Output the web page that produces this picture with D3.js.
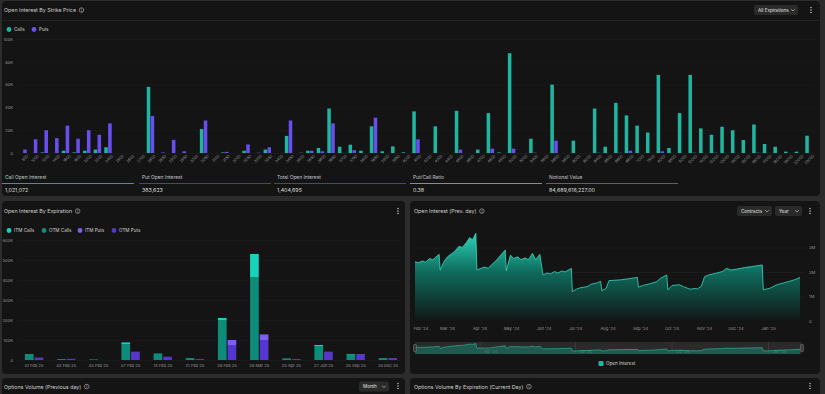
<!DOCTYPE html>
<html>
<head>
<meta charset="utf-8">
<script src="https://cdn.jsdelivr.net/npm/d3@7"></script>
<style>
  body { margin: 0; background: #2c2c2c; font-family: Inter, "Noto Sans", sans-serif; }
  svg { display: block; }
</style>
</head>
<body>
<div id="chart"></div>
<script>
// ---- open interest by strike ----
var strikes = [800,1000,1200,1400,1600,1800,2000,2200,2400,2500,2600,2700,2800,
  2850,2900,2950,3000,3050,3100,3150,3200,3250,3300,3350,3400,3450,3500,3550,3600,3650,
  3700,3750,3800,3850,3900,3950,4000,4100,4200,4300,4400,4500,4600,4700,4800,4900,5000,
  5200,5400,5500,5600,5800,6000,6200,6400,6500,6600,6800,7000,7500,8000,8500,9000,10000,
  11000,12000,13000,14000,15000,16000,17000,18000,19000,20000,25000];
var callOI = [0,0,500,0,2000,500,2000,3000,5000,0,0,0,58000,
  0,0,0,0,21000,0,500,0,2000,0,3000,0,15000,0,2000,4400,39000,
  5500,7300,2000,23400,1500,5800,600,36500,0,23400,0,37000,0,3000,35000,500,87500,
  0,12500,0,60000,0,10800,0,39000,5500,44000,33000,24000,18000,68500,4400,35000,68500,
  21600,16000,23000,20000,11400,25000,7900,5500,1200,1200,15200];
var putOI = [3000,12000,20000,13000,24000,12500,20000,16000,26000,0,0,0,32500,
  500,11500,1500,0,28500,0,1000,0,7500,300,5000,0,28500,300,2000,1500,26000,
  0,2500,0,31000,0,0,0,12000,0,0,0,3000,0,0,3800,0,3800,
  0,300,0,10800,0,0,0,300,0,300,2000,0,0,1500,0,0,300,
  0,300,0,0,0,300,0,0,0,0,0];
var strikeTicks = [0,20000,40000,60000,80000,100000];

var statLabels = ["Call Open Interest","Put Open Interest","Total Open Interest","Put/Call Ratio","Notional  Value"];
var statValues = ["1,021,072","383,623","1,404,695","0.38","84,689,616,227.00"];
var statColors = ["#1fb5a0","#4b3fc4","#4c3fd0","#9a9a9a","#6a6a6a"];

// ---- open interest by expiration ----
var expiries = ["01 Feb 25","02 Feb 25","03 Feb 25","07 Feb 25","14 Feb 25","21 Feb 25",
  "28 Feb 25","28 Mar 25","25 Apr 25","27 Jun 25","26 Sep 25","26 Dec 25"];
var itmCalls = [3000,500,300,8000,3000,1000,10000,117000,800,5000,3000,1000];
var otmCalls = [25000,4500,2700,80000,29000,9000,200000,413000,7200,70000,27000,9000];
var itmPuts  = [1000,500,0,3000,1000,500,25000,28000,500,3000,2000,1000];
var otmPuts  = [11000,5500,300,38000,15000,4500,75000,100000,4500,38000,28000,9000];
var expTicks = [0,100000,200000,300000,400000,500000,600000];

// ---- open interest history ----
var oiDates = ["2024-01-30","2024-02-02","2024-02-06","2024-02-09","2024-02-13","2024-02-16","2024-02-20","2024-02-22",
  "2024-02-23","2024-02-27","2024-03-01","2024-03-05","2024-03-08","2024-03-12","2024-03-15","2024-03-19","2024-03-22",
  "2024-03-25","2024-03-28","2024-03-29","2024-04-02","2024-04-05","2024-04-09","2024-04-12","2024-04-16","2024-04-19",
  "2024-04-25","2024-04-26","2024-04-30","2024-05-03","2024-05-07","2024-05-10","2024-05-14","2024-05-17","2024-05-21",
  "2024-05-24","2024-05-28","2024-05-31","2024-06-04","2024-06-07","2024-06-11","2024-06-14","2024-06-18","2024-06-21",
  "2024-06-27","2024-06-28","2024-07-02","2024-07-05","2024-07-09","2024-07-12","2024-07-16","2024-07-22","2024-07-25",
  "2024-07-26","2024-07-30","2024-08-02","2024-08-06","2024-08-13","2024-08-20","2024-08-29","2024-08-30","2024-09-03",
  "2024-09-10","2024-09-16","2024-09-20","2024-09-26","2024-09-27","2024-10-01","2024-10-08","2024-10-12","2024-10-18",
  "2024-10-24","2024-10-25","2024-10-29","2024-11-01","2024-11-05","2024-11-12","2024-11-18","2024-11-22","2024-11-26",
  "2024-12-02","2024-12-09","2024-12-16","2024-12-26","2024-12-27","2025-01-03","2025-01-09","2025-01-15","2025-01-21",
  "2025-01-27","2025-01-31"];
var oiValues = [2420000,2380000,2450000,2400000,2550000,2500000,2650000,2720000,
  2080000,2450000,2620000,2750000,2850000,3050000,3000000,3200000,3400000,
  3320000,3580000,2080000,2150000,2200000,2150000,2300000,2450000,2600000,
  2900000,2050000,2690000,2550000,2620000,2500000,2580000,2500000,2760000,
  2500000,2720000,1880000,1960000,1920000,2020000,1960000,2040000,2000000,
  2150000,1200000,1300000,1350000,1380000,1400000,1500000,1560000,1620000,
  1240000,1320000,1650000,1660000,1680000,1720000,1780000,1380000,1450000,
  1520000,1600000,1740000,1880000,1270000,1450000,1480000,1400000,1300000,
  1330000,1300000,1420000,1810000,1880000,1950000,2020000,2150000,2080000,
  2120000,2180000,2220000,2290000,1270000,1350000,1480000,1550000,1620000,
  1700000,1780000];
var oiTicks = [0,1000000,2000000,3000000];

var teal = "#1fb5a0", purple = "#6a4ff0";
var textCol = "#d0d0d0", dimText = "#959595";

var svg = d3.select("#chart").append("svg")
    .attr("width", 825)
    .attr("height", 394);

var defs = svg.append("defs");

function panel(x, y, w, h) {
  svg.append("rect")
     .attr("x", x).attr("y", y)
     .attr("width", w).attr("height", h)
     .attr("rx", 4)
     .attr("fill", "#141414");
}

function title(x, y, txt) {
  var t = svg.append("text")
     .attr("x", x).attr("y", y)
     .attr("font-size", 5.3)
     .attr("fill", textCol)
     .text(txt);
  var w = t.node().getComputedTextLength();
  // info icon
  svg.append("circle").attr("cx", x + w + 5.5).attr("cy", y - 1.9).attr("r", 2.3)
     .attr("fill", "none").attr("stroke", "#bbb").attr("stroke-width", 0.6);
  svg.append("text").attr("x", x + w + 5.5).attr("y", y - 0.4)
     .attr("text-anchor", "middle").attr("font-size", 3.8).attr("fill", "#ccc").text("i");
}

function kebab(x, y) {
  [-2.5, 0, 2.5].forEach(function (d) {
    svg.append("circle").attr("cx", x).attr("cy", y + d).attr("r", 0.7).attr("fill", "#ddd");
  });
}

function button(x, y, w, txt) {
  svg.append("rect").attr("x", x).attr("y", y).attr("width", w).attr("height", 10)
     .attr("rx", 2).attr("fill", "#2a2a2a");
  svg.append("text").attr("x", x + 4).attr("y", y + 6.6)
     .attr("font-size", 4.6).attr("fill", "#e0e0e0").text(txt);
  var cx = x + w - 5;
  svg.append("path")
     .attr("d", "M" + (cx - 1.8) + "," + (y + 4.2) + "L" + cx + "," + (y + 6) + "L" + (cx + 1.8) + "," + (y + 4.2))
     .attr("fill", "none").attr("stroke", "#ddd").attr("stroke-width", 0.6);
}

function legendDot(x, y, col, txt, square) {
  if (square) {
    svg.append("rect").attr("x", x - 2.5).attr("y", y - 2.5).attr("width", 5).attr("height", 5)
       .attr("rx", 1).attr("fill", col);
  } else {
    svg.append("circle").attr("cx", x).attr("cy", y).attr("r", 2.4).attr("fill", col);
  }
  svg.append("text").attr("x", x + 5).attr("y", y + 1.7)
     .attr("font-size", 4.6).attr("fill", textCol).text(txt);
}

// panels
panel(2, 1, 818, 195);
panel(2, 201, 403, 173);
panel(410, 201, 410, 173);
panel(2, 378, 403, 30);
panel(410, 378, 410, 30);

// ================= Open Interest By Strike Price =================
title(4, 12, "Open Interest By Strike Price");
button(754, 5, 44, "All Expirations");
kebab(811, 10);
svg.append("line").attr("x1", 2).attr("x2", 820).attr("y1", 20.5).attr("y2", 20.5)
   .attr("stroke", "#262626").attr("stroke-width", 0.8);

legendDot(9, 29.5, teal, "Calls");
legendDot(34, 29.5, purple, "Puts");

var xS = d3.scaleBand().domain(strikes).range([17.7, 814.3]).paddingInner(0.3).paddingOuter(0.15);
var xSi = d3.scaleBand().domain(["calls", "puts"]).range([0, xS.bandwidth()]).paddingInner(0.1);
var yS = d3.scaleLinear().domain([0, 100000]).range([153, 39]);
var fmtK = function (v) { return v === 0 ? "0" : (v / 1000) + "K"; };

var gS = svg.append("g");
gS.selectAll(".grid").data(strikeTicks).enter().append("line")
  .attr("x1", 17).attr("x2", 815)
  .attr("y1", function (d) { return yS(d) + 0.5; })
  .attr("y2", function (d) { return yS(d) + 0.5; })
  .attr("stroke", "#1f1f1f").attr("stroke-width", 0.6);

gS.append("g")
  .attr("transform", "translate(13,0)")
  .call(d3.axisLeft(yS).tickValues(strikeTicks).tickFormat(fmtK).tickSize(0).tickPadding(0))
  .call(function (g) { g.select(".domain").remove(); })
  .selectAll("text").attr("font-size", 4.1).attr("fill", dimText).attr("font-family", "Inter");

var strikeRows = strikes.map(function (s, i) { return { strike: s, calls: callOI[i], puts: putOI[i] }; });
var grp = gS.selectAll(".sg").data(strikeRows).enter().append("g")
  .attr("transform", function (d) { return "translate(" + xS(d.strike) + ",0)"; });
grp.append("rect")
  .attr("x", xSi("calls")).attr("width", xSi.bandwidth())
  .attr("y", function (d) { return yS(d.calls); })
  .attr("height", function (d) { return yS(0) - yS(d.calls); })
  .attr("fill", teal);
grp.append("rect")
  .attr("x", xSi("puts")).attr("width", xSi.bandwidth())
  .attr("y", function (d) { return yS(d.puts); })
  .attr("height", function (d) { return yS(0) - yS(d.puts); })
  .attr("fill", purple);

gS.append("g")
  .attr("transform", "translate(0,154)")
  .call(d3.axisBottom(xS).tickSize(0).tickPadding(2))
  .call(function (g) { g.select(".domain").remove(); })
  .selectAll("text")
    .attr("font-size", 3.8).attr("fill", dimText).attr("font-family", "Inter")
    .style("text-anchor", "end")
    .attr("dx", "0.6em").attr("dy", "0.9em")
    .attr("transform", "rotate(-45)");

// stats row
var statX = [5, 142, 277, 413, 549];
statLabels.forEach(function (lab, i) {
  svg.append("text").attr("x", statX[i]).attr("y", 179).attr("font-size", 4.9)
     .attr("fill", "#c4c4c4").text(lab);
  svg.append("line").attr("x1", statX[i] - 3).attr("x2", statX[i] + 129)
     .attr("y1", 183.5).attr("y2", 183.5).attr("stroke", statColors[i]).attr("stroke-width", 0.9);
  svg.append("text").attr("x", statX[i]).attr("y", 191.5).attr("font-size", 5.3)
     .attr("fill", "#dcdcdc").text(statValues[i]);
});

// ================= Open Interest By Expiration =================
title(4, 213, "Open Interest By Expiration");
kebab(398, 211);
legendDot(9, 230.5, "#16d3bb", "ITM Calls");
legendDot(44, 230.5, "#0e8c7a", "OTM Calls");
legendDot(80, 230.5, "#7c5ff0", "ITM Puts");
legendDot(114, 230.5, "#5636d0", "OTM Puts");

var xE = d3.scaleBand().domain(expiries).range([18, 404]).paddingInner(0.43).paddingOuter(0.215);
var xEi = d3.scaleBand().domain(["c", "p"]).range([0, xE.bandwidth()]).paddingInner(0.1);
var yE = d3.scaleLinear().domain([0, 600000]).range([360, 240]);

var gE = svg.append("g");
gE.selectAll(".grid").data(expTicks).enter().append("line")
  .attr("x1", 17).attr("x2", 400)
  .attr("y1", function (d) { return yE(d) + 0.5; })
  .attr("y2", function (d) { return yE(d) + 0.5; })
  .attr("stroke", "#1c1c1c").attr("stroke-width", 0.6);
gE.append("g")
  .attr("transform", "translate(13,0)")
  .call(d3.axisLeft(yE).tickValues(expTicks).tickFormat(fmtK).tickSize(0).tickPadding(0))
  .call(function (g) { g.select(".domain").remove(); })
  .selectAll("text").attr("font-size", 4.1).attr("fill", dimText).attr("font-family", "Inter");

var expRows = expiries.map(function (e, i) {
  return { exp: e, otmC: otmCalls[i], itmC: itmCalls[i], otmP: otmPuts[i], itmP: itmPuts[i] };
});
var callStack = d3.stack().keys(["otmC", "itmC"])(expRows);
var putStack = d3.stack().keys(["otmP", "itmP"])(expRows);
var stackCols = { otmC: "#0e8c7a", itmC: "#16d3bb", otmP: "#5636d0", itmP: "#7c5ff0" };

function drawStack(series, side) {
  gE.selectAll(".s" + side).data(series).enter().append("g")
    .attr("fill", function (d) { return stackCols[d.key]; })
    .selectAll("rect").data(function (d) { return d; }).enter().append("rect")
      .attr("x", function (d) { return xE(d.data.exp) + xEi(side); })
      .attr("width", xEi.bandwidth())
      .attr("y", function (d) { return yE(d[1]); })
      .attr("height", function (d) { return yE(d[0]) - yE(d[1]); });
}
drawStack(callStack, "c");
drawStack(putStack, "p");

gE.append("g")
  .attr("transform", "translate(0,361)")
  .call(d3.axisBottom(xE).tickSize(0).tickPadding(3))
  .call(function (g) { g.select(".domain").remove(); })
  .selectAll("text").attr("font-size", 4.1).attr("fill", dimText).attr("font-family", "Inter");

// ================= Open Interest (Prev. day) =================
title(414, 213, "Open Interest (Prev. day)");
button(737, 206, 35, "Contracts");
button(775, 206, 27, "Year");
kebab(810, 211);

var parseD = d3.timeParse("%Y-%m-%d");
var oiRows = oiDates.map(function (d, i) { return { date: parseD(d), value: oiValues[i] }; });
var xT = d3.scaleTime().domain([parseD("2024-01-30"), parseD("2025-01-31")]).range([415, 800]);
var yT = d3.scaleLinear().domain([0, 4000000]).range([321, 223]);

var grad = defs.append("linearGradient").attr("id", "oiGrad")
  .attr("gradientUnits", "userSpaceOnUse")
  .attr("x1", 0).attr("x2", 0).attr("y1", yT(3600000)).attr("y2", yT(0));
grad.append("stop").attr("offset", "0%").attr("stop-color", "#2ad3b8");
grad.append("stop").attr("offset", "45%").attr("stop-color", "#0f6a5c");
grad.append("stop").attr("offset", "100%").attr("stop-color", "#111716");

var gT = svg.append("g");
gT.selectAll(".grid").data(oiTicks.slice(1)).enter().append("line")
  .attr("x1", 415).attr("x2", 806)
  .attr("y1", function (d) { return yT(d) + 0.5; })
  .attr("y2", function (d) { return yT(d) + 0.5; })
  .attr("stroke", "#222").attr("stroke-width", 0.6);

gT.append("path").datum(oiRows)
  .attr("fill", "url(#oiGrad)")
  .attr("d", d3.area().x(function (d) { return xT(d.date); }).y0(yT(0)).y1(function (d) { return yT(d.value); }));
gT.append("path").datum(oiRows)
  .attr("fill", "none").attr("stroke", "#3ad8bd").attr("stroke-width", 0.8)
  .attr("d", d3.line().x(function (d) { return xT(d.date); }).y(function (d) { return yT(d.value); }));

gT.append("g")
  .attr("transform", "translate(809,0)")
  .call(d3.axisRight(yT).tickValues(oiTicks)
        .tickFormat(function (v) { return v === 0 ? "0" : (v / 1e6) + "M"; })
        .tickSize(0).tickPadding(0))
  .call(function (g) { g.select(".domain").remove(); })
  .selectAll("text").attr("font-size", 4.1).attr("fill", dimText).attr("font-family", "Inter");

var monthTicks = d3.timeMonth.range(parseD("2024-02-01"), parseD("2025-01-31"));
var fmtMonth = d3.timeFormat("%b '%y");
gT.selectAll(".mt").data(monthTicks).enter().append("text")
  .attr("x", function (d) { return Math.max(xT(d), 421); })
  .attr("y", 329.5)
  .attr("text-anchor", "middle")
  .attr("font-size", 4.1).attr("fill", dimText)
  .text(fmtMonth);

// navigator
var navY = d3.scaleLinear().domain([0, 3600000]).range([355, 343.5]);
gT.append("rect").attr("x", 415).attr("y", 342).attr("width", 387).attr("height", 12)
  .attr("fill", "#2a2a2a");
var quarters = d3.timeMonth.every(3).range(parseD("2024-03-01"), parseD("2025-01-31"));
gT.selectAll(".ql").data(quarters).enter().append("line")
  .attr("x1", function (d) { return xT(d); }).attr("x2", function (d) { return xT(d); })
  .attr("y1", 342).attr("y2", 354)
  .attr("stroke", "#4a4a4a").attr("stroke-width", 0.5);
gT.selectAll(".qt").data(quarters).enter().append("text")
  .attr("x", function (d) { return xT(d) + 4; })
  .attr("y", 352.5)
  .attr("font-size", 3.8).attr("fill", "#8a8a8a")
  .text(fmtMonth);
gT.append("path").datum(oiRows)
  .attr("fill", "#1a7f6f").attr("fill-opacity", 0.55)
  .attr("d", d3.area().x(function (d) { return xT(d.date); }).y0(354).y1(function (d) { return navY(d.value); }));
gT.append("path").datum(oiRows)
  .attr("fill", "none").attr("stroke", "#2fbfa5").attr("stroke-width", 0.6)
  .attr("d", d3.line().x(function (d) { return xT(d.date); }).y(function (d) { return navY(d.value); }));
[415, 802].forEach(function (hx) {
  gT.append("rect").attr("x", hx - 1.5).attr("y", 344.5).attr("width", 3).attr("height", 7)
    .attr("rx", 0.8).attr("fill", "#3a3a3a").attr("stroke", "#999").attr("stroke-width", 0.4);
});

legendDot(601, 363.5, teal, "Open Interest", true);

// ================= bottom panels (cut off) =================
title(4, 388.5, "Options Volume (Previous day)");
button(359, 381.5, 30, "Month");
kebab(398, 386);
title(414, 388.5, "Options Volume By Expiration (Current Day)");
kebab(810, 386);
</script>
</body>
</html>
